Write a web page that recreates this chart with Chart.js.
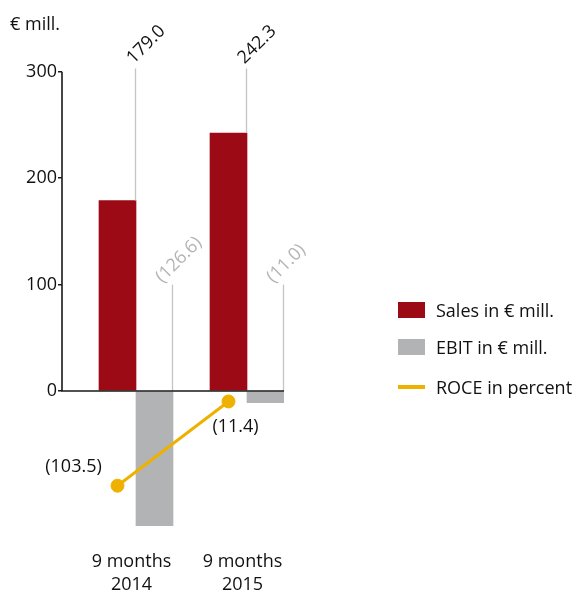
<!DOCTYPE html>
<html>
<head>
<meta charset="utf-8">
<script src="https://cdn.jsdelivr.net/npm/chart.js@4.4.1/dist/chart.umd.min.js"></script>
<style>
  html, body { margin: 0; padding: 0; background: #fff; }
  #wrap { position: relative; width: 574px; height: 592px; }
  #legend { position: absolute; left: 398px; top: 0; font-family: "Open Sans", sans-serif; font-size: 18px; color: #111; }
  #legend .row { position: absolute; left: 0; height: 24px; display: flex; align-items: center; white-space: nowrap; }
  #legend .box { display: inline-block; width: 27px; height: 16px; }
  #legend .line { display: inline-block; width: 27px; height: 4px; }
  #legend .txt { margin-left: 11px; }
</style>
</head>
<body>
<div id="wrap">
  <canvas id="chart" width="574" height="592"></canvas>
  <div id="legend"></div>
</div>
<script>
// Daten
const categories = [['9 months', '2014'], ['9 months', '2015']];
const sales = [179.0, 242.3];
const ebit = [-126.6, -11.0];
const roce = [-103.5, -11.4];
const yTicks = [0, 100, 200, 300];
const seriesNames = ['Sales in € mill.', 'EBIT in € mill.', 'ROCE in percent'];

const FONT = '"Open Sans", sans-serif';
const RED = '#9c0a16';
const GREY = '#b2b3b4';
const AMBER = '#efb100';

// y-Achse: 0 bei 391px, 300 bei 72px
const Y_MIN = -147.5;
const Y_MAX = 327.5;
const ROCE_K = 1.163; // ROCE ist flacher skaliert

function paren(v) {
    return v < 0 ? '(' + Math.abs(v).toFixed(1) + ')' : v.toFixed(1);
}

function rotatedText(ctx, text, x, y, color) {
    ctx.save();
    ctx.translate(x, y);
    ctx.rotate(-Math.PI / 4);
    ctx.fillStyle = color;
    ctx.textAlign = 'left';
    ctx.textBaseline = 'alphabetic';
    ctx.fillText(text, 0, 0);
    ctx.restore();
}

// Achsenlinien, Hilfslinien und Werte
const overlay = {
    id: 'overlay',
    afterDatasetsDraw(chart) {
        const ctx = chart.ctx;
        const area = chart.chartArea;
        const y = chart.scales.y;
        const y0 = y.getPixelForValue(0);

        ctx.save();
        ctx.font = '18px ' + FONT;

        // graue Hilfslinien
        ctx.strokeStyle = '#c4c4c4';
        ctx.lineWidth = 1.3;
        const salesMeta = chart.getDatasetMeta(0);
        salesMeta.data.forEach((bar, i) => {
            const lx = bar.x + bar.width / 2 - 0.5;
            const top = y.getPixelForValue(303);
            ctx.beginPath();
            ctx.moveTo(lx, bar.y);
            ctx.lineTo(lx, top);
            ctx.stroke();
            rotatedText(ctx, paren(sales[i]), lx - 2, top - 4, '#111');
        });
        const ebitMeta = chart.getDatasetMeta(1);
        ebitMeta.data.forEach((bar, i) => {
            const lx = bar.x + bar.width / 2 - 0.5;
            const top = y.getPixelForValue(100);
            ctx.beginPath();
            ctx.moveTo(lx, y0);
            ctx.lineTo(lx, top);
            ctx.stroke();
            rotatedText(ctx, paren(ebit[i]), lx - 10, top - 1, '#b3b3b3');
        });

        // Achse und Nulllinie
        ctx.strokeStyle = '#1a1a1a';
        ctx.lineWidth = 1.6;
        ctx.beginPath();
        ctx.moveTo(area.left, y.getPixelForValue(yTicks[yTicks.length - 1]));
        ctx.lineTo(area.left, y0);
        ctx.lineTo(area.right, y0);
        ctx.stroke();

        // ROCE Beschriftung
        const roceMeta = chart.getDatasetMeta(2);
        const offs = [[-44, -19], [7, 25]];
        ctx.fillStyle = '#111';
        ctx.textAlign = 'center';
        ctx.textBaseline = 'middle';
        roceMeta.data.forEach((pt, i) => {
            ctx.fillText(paren(roce[i]), pt.x + offs[i][0], pt.y + offs[i][1]);
        });
        ctx.restore();
    }
};

const chart = new Chart(document.getElementById('chart'), {
    type: 'bar',
    data: {
        labels: categories,
        datasets: [{
            label: seriesNames[0],
            data: sales,
            backgroundColor: RED,
            barThickness: 37,
            grouped: false,
            xAxisID: 'x',
            yAxisID: 'y',
            order: 1
        }, {
            label: seriesNames[1],
            data: ebit.map((v, i) => ({ x: i, y: v })),
            backgroundColor: GREY,
            barThickness: 37,
            grouped: false,
            xAxisID: 'xe',
            yAxisID: 'y',
            order: 1
        }, {
            type: 'line',
            label: seriesNames[2],
            data: roce,
            borderColor: AMBER,
            backgroundColor: AMBER,
            borderWidth: 3,
            pointRadius: 6.5,
            pointBorderWidth: 1,
            pointBackgroundColor: AMBER,
            xAxisID: 'x',
            yAxisID: 'y2',
            order: 0
        }]
    },
    options: {
        responsive: false,
        animation: false,
        devicePixelRatio: 1,
        layout: { padding: { left: 10, right: 290, top: 0, bottom: 0 } },
        plugins: {
            legend: { display: false },
            tooltip: { enabled: false },
            title: {
                display: true,
                text: '€ mill.',
                align: 'start',
                color: '#111',
                font: { family: FONT, size: 18, weight: 'normal', lineHeight: 1.2 },
                padding: { top: 14, bottom: 6.8 }
            }
        },
        scales: {
            x: {
                type: 'category',
                offset: true,
                grid: { display: false, drawTicks: false },
                border: { display: false },
                ticks: {
                    color: '#111',
                    font: { family: FONT, size: 18, lineHeight: 1.3 },
                    padding: 2,
                    labelOffset: 14,
                    maxRotation: 0
                },
                afterFit: s => { s.height = 44; }
            },
            xe: {
                type: 'linear',
                display: false,
                offset: false,
                min: -0.8333,
                max: 1.1667
            },
            y: {
                position: 'left',
                min: Y_MIN,
                max: Y_MAX,
                afterBuildTicks: s => { s.ticks = yTicks.map(v => ({ value: v })); },
                grid: { drawOnChartArea: false, drawTicks: true, tickLength: 4, color: '#1a1a1a', lineWidth: 1.5 },
                border: { display: false },
                ticks: {
                    color: '#111',
                    font: { family: FONT, size: 18 },
                    padding: 1
                },
                afterFit: s => { s.width = 52; }
            },
            y2: {
                display: false,
                min: Y_MIN * ROCE_K,
                max: Y_MAX * ROCE_K
            }
        }
    },
    plugins: [overlay]
});

// Legende
const legendTops = [310, 347, 387];
const legendEl = document.getElementById('legend');
chart.data.datasets.forEach((ds, i) => {
    const row = document.createElement('div');
    row.className = 'row';
    row.style.top = (legendTops[i] - 12) + 'px';
    const key = document.createElement('span');
    key.className = ds.type === 'line' ? 'line' : 'box';
    key.style.background = ds.type === 'line' ? ds.borderColor : ds.backgroundColor;
    const txt = document.createElement('span');
    txt.className = 'txt';
    txt.textContent = ds.label;
    row.appendChild(key);
    row.appendChild(txt);
    legendEl.appendChild(row);
});
</script>
</body>
</html>
